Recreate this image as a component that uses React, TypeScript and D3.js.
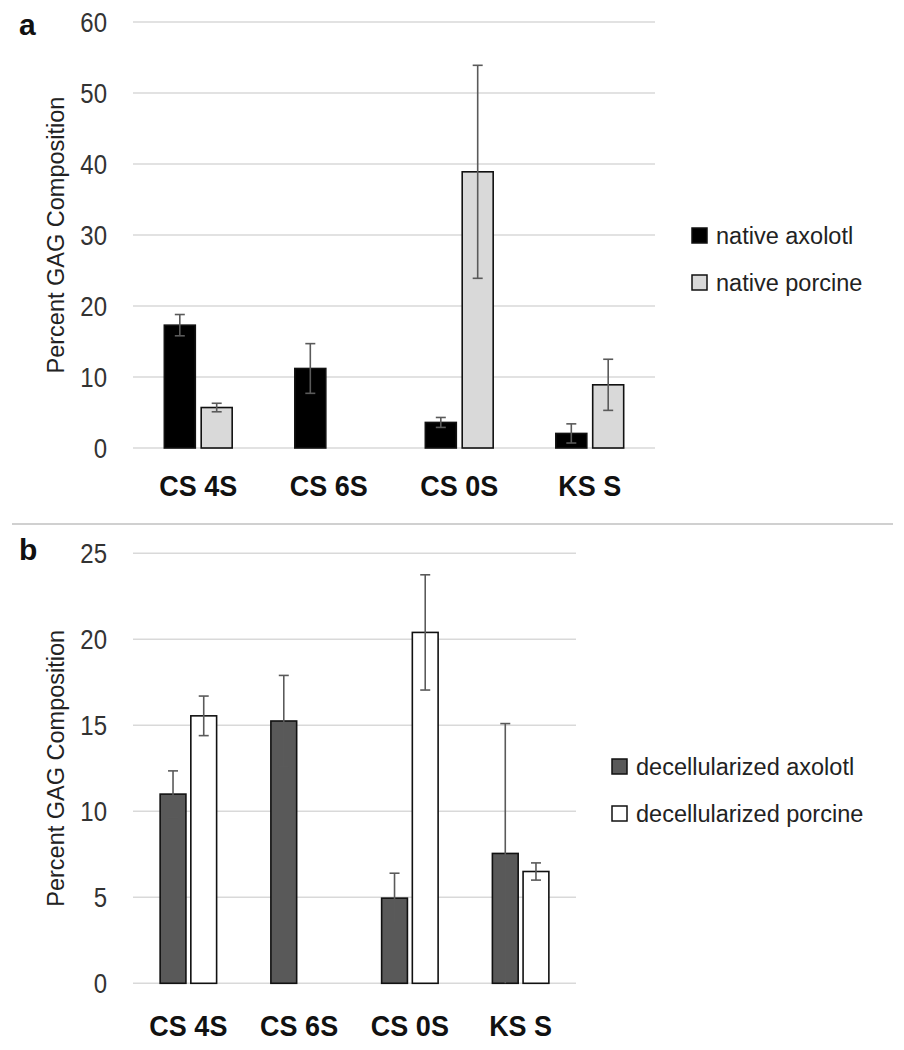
import React from "react";
import * as d3 from "d3";

const categories = ["CS 4S", "CS 6S", "CS 0S", "KS S"];

// panel a: native tissue
const nativeSeries = ["native axolotl", "native porcine"];
const nativeAxolotl = [17.3, 11.2, 3.6, 2.05];
const nativeAxolotlErr = [1.5, 3.5, 0.7, 1.35];
const nativePorcine = [5.7, 0, 38.9, 8.9];
const nativePorcineErr = [0.6, 0, 15.0, 3.6];
const nativeTicks = [0, 10, 20, 30, 40, 50, 60];

// panel b: decellularized tissue
const decelSeries = ["decellularized axolotl", "decellularized porcine"];
const decelAxolotl = [11.0, 15.25, 4.95, 7.55];
const decelAxolotlErr = [1.35, 2.65, 1.45, 7.55];
const decelPorcine = [15.55, 0, 20.4, 6.5];
const decelPorcineErr = [1.15, 0, 3.35, 0.5];
const decelTicks = [0, 5, 10, 15, 20, 25];

const FONT = "Arial, 'Liberation Sans', Helvetica, sans-serif";
// the original figure is slightly stretched vertically
const STRETCH = 1.12;

type PanelProps = {
  label: string;
  labelY: number;
  top: number;
  bottom: number;
  right: number;
  maxY: number;
  ticks: number[];
  series: string[];
  values: number[][];
  errors: number[][];
  fills: string[];
  groupFrac: number;
  xLabelY: number;
  legendX: number;
  legendY: number;
};

const Panel = (p: PanelProps) => {
  const left = 133;
  const x = d3.scaleBand().domain(categories).range([left, p.right]).padding(0);
  const y = d3.scaleLinear().domain([0, p.maxY]).range([p.bottom, p.top]);
  const gw = x.bandwidth() * p.groupFrac;
  const inner = d3
    .scaleBand()
    .domain(p.series)
    .range([-gw / 2, gw / 2])
    .paddingInner(0.16);
  const midY = (p.top + p.bottom) / 2;

  return (
    <g>
      <text x={19} y={p.labelY} fontFamily={FONT} fontWeight="bold" fontSize={30} fill="#111">
        {p.label}
      </text>
      {p.ticks.map((t) => (
        <g key={t}>
          <line x1={left} x2={p.right} y1={y(t)} y2={y(t)} stroke="#d9d9d9" strokeWidth={1.6} />
          <text
            transform={`translate(107, ${y(t)}) scale(1, ${STRETCH})`}
            dy="0.36em"
            textAnchor="end"
            fontFamily={FONT}
            fontSize={24}
            fill="#333"
          >
            {t}
          </text>
        </g>
      ))}
      <text
        transform={`translate(64, ${midY}) rotate(-90)`}
        textAnchor="middle"
        fontFamily={FONT}
        fontSize={23.5}
        fill="#222"
      >
        Percent GAG Composition
      </text>
      {categories.map((c, i) => {
        const cx = (x(c) as number) + x.bandwidth() / 2;
        return (
          <g key={c}>
            {p.series.map((s, j) => {
              const v = p.values[j][i];
              if (!v) return null;
              const e = p.errors[j][i];
              const bx = cx + (inner(s) as number);
              const ex = bx + inner.bandwidth() / 2;
              const lo = Math.max(0, v - e);
              return (
                <g key={s}>
                  <rect
                    x={bx}
                    y={y(v)}
                    width={inner.bandwidth()}
                    height={y(0) - y(v)}
                    fill={p.fills[j]}
                    stroke="#111"
                    strokeWidth={1.6}
                  />
                  <g stroke="#5a5a5a" strokeWidth={1.6}>
                    <line x1={ex} x2={ex} y1={y(v + e)} y2={y(lo)} />
                    <line x1={ex - 5} x2={ex + 5} y1={y(v + e)} y2={y(v + e)} />
                    {lo > 0 && <line x1={ex - 5} x2={ex + 5} y1={y(lo)} y2={y(lo)} />}
                  </g>
                </g>
              );
            })}
            <text
              transform={`translate(${cx}, ${p.xLabelY}) scale(1, ${STRETCH})`}
              textAnchor="middle"
              fontFamily={FONT}
              fontWeight="bold"
              fontSize={27}
              fill="#111"
            >
              {c}
            </text>
          </g>
        );
      })}
      {p.series.map((s, j) => (
        <g key={s} transform={`translate(${p.legendX}, ${p.legendY + j * 47})`}>
          <rect x={0} y={-16} width={15} height={15} fill={p.fills[j]} stroke="#111" strokeWidth={1.5} />
          <text x={24} y={0} fontFamily={FONT} fontSize={23.5} fill="#222">
            {s}
          </text>
        </g>
      ))}
    </g>
  );
};

export default function App() {
  return (
    <svg
      width={904}
      height={1050}
      style={{ position: "absolute", left: 0, top: 0, background: "#fff" }}
    >
      <Panel
        label="a"
        labelY={35}
        top={22}
        bottom={448}
        right={655}
        maxY={60}
        ticks={nativeTicks}
        series={nativeSeries}
        values={[nativeAxolotl, nativePorcine]}
        errors={[nativeAxolotlErr, nativePorcineErr]}
        fills={["#000", "#d9d9d9"]}
        groupFrac={0.52}
        xLabelY={496}
        legendX={692}
        legendY={244}
      />
      <line x1={12} x2={893} y1={524} y2={524} stroke="#d0d0d0" strokeWidth={2} />
      <Panel
        label="b"
        labelY={560}
        top={553.3}
        bottom={983.3}
        right={576}
        maxY={25}
        ticks={decelTicks}
        series={decelSeries}
        values={[decelAxolotl, decelPorcine]}
        errors={[decelAxolotlErr, decelPorcineErr]}
        fills={["#595959", "#fff"]}
        groupFrac={0.51}
        xLabelY={1036}
        legendX={612}
        legendY={775}
      />
    </svg>
  );
}
